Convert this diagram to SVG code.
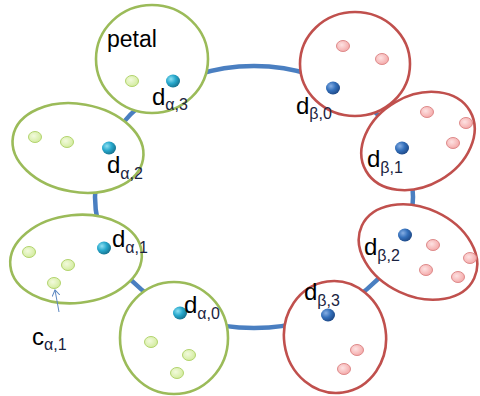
<svg xmlns="http://www.w3.org/2000/svg" width="480" height="396" viewBox="0 0 480 396">
<defs>
<radialGradient id="gTeal" cx="0.35" cy="0.35" r="0.7"><stop offset="0" stop-color="#8fe0f2"/><stop offset="0.5" stop-color="#27a8cc"/><stop offset="1" stop-color="#16708c"/></radialGradient>
<radialGradient id="gBlue" cx="0.35" cy="0.35" r="0.7"><stop offset="0" stop-color="#86aee3"/><stop offset="0.5" stop-color="#3470bb"/><stop offset="1" stop-color="#1d4785"/></radialGradient>
<radialGradient id="gGreen" cx="0.4" cy="0.4" r="0.7"><stop offset="0" stop-color="#f2fadd"/><stop offset="1" stop-color="#cfea96"/></radialGradient>
<radialGradient id="gPink" cx="0.4" cy="0.4" r="0.7"><stop offset="0" stop-color="#fde2e2"/><stop offset="1" stop-color="#f3a2a2"/></radialGradient>
<marker id="arr" markerWidth="8" markerHeight="8" refX="6" refY="4" orient="auto" markerUnits="userSpaceOnUse"><path d="M0,0 L6,4 L0,8" fill="none" stroke="#5b86c0" stroke-width="1"/></marker>
</defs>
<style>
.ring{fill:none;stroke:#4a7fc1;stroke-width:4.5}
.pg{fill:#fff;stroke:#9bbb59;stroke-width:2.6}
.pr{fill:#fff;stroke:#c0504d;stroke-width:2.6}
.lg{fill:url(#gGreen);stroke:#b3d46f;stroke-width:1}
.pk{fill:url(#gPink);stroke:#de8a8a;stroke-width:1}
.tl{fill:url(#gTeal)}
.bl{fill:url(#gBlue)}
text{font-family:"Liberation Sans",Arial,sans-serif;fill:#000}
.d{font-size:24px}
.s{font-size:16px;fill:#1a2340}
</style>
<g id="connectors">
<ellipse class="ring" cx="254" cy="197" rx="159" ry="131"/>
</g>
<g id="petal-a3">
<ellipse class="pg" cx="152" cy="59" rx="56" ry="54"/>
<text x="107" y="47" style="font-size:23px">petal</text>
<ellipse class="lg" cx="132" cy="81" rx="6.5" ry="5.5"/>
<ellipse class="tl" cx="173" cy="81" rx="7" ry="6.5"/>
<text x="152" y="105"><tspan class="d">d</tspan><tspan class="s" dy="5">α,3</tspan></text>
</g>
<g id="petal-b0">
<ellipse class="pr" cx="355" cy="64" rx="55" ry="52"/>
<ellipse class="pk" cx="343" cy="46" rx="6.5" ry="5.5"/>
<ellipse class="pk" cx="382" cy="59" rx="6.5" ry="5.5"/>
<ellipse class="bl" cx="333" cy="88" rx="7" ry="6.5"/>
<text x="296" y="114"><tspan class="d">d</tspan><tspan class="s" dy="5">β,0</tspan></text>
</g>
<g id="petal-a2">
<ellipse class="pg" cx="78" cy="148" rx="66" ry="44" transform="rotate(10 78 148)"/>
<ellipse class="lg" cx="35" cy="137" rx="6.5" ry="5.5"/>
<ellipse class="lg" cx="67" cy="142" rx="6.5" ry="5.5"/>
<ellipse class="tl" cx="109" cy="148" rx="7" ry="6.5"/>
<text x="107" y="173"><tspan class="d">d</tspan><tspan class="s" dy="6">α,2</tspan></text>
</g>
<g id="petal-b1">
<ellipse class="pr" cx="418" cy="141" rx="60" ry="45" transform="rotate(-30 418 141)"/>
<ellipse class="pk" cx="427" cy="112" rx="6.5" ry="5.5"/>
<ellipse class="pk" cx="466" cy="123" rx="6.5" ry="5.5"/>
<ellipse class="pk" cx="453" cy="143" rx="6.5" ry="5.5"/>
<ellipse class="bl" cx="402" cy="148" rx="7" ry="6.5"/>
<text x="367" y="167"><tspan class="d">d</tspan><tspan class="s" dy="6">β,1</tspan></text>
</g>
<g id="petal-a1">
<ellipse class="pg" cx="76" cy="259" rx="66" ry="44" transform="rotate(-6 76 259)"/>
<ellipse class="lg" cx="29" cy="252" rx="6.5" ry="5.5"/>
<ellipse class="lg" cx="68" cy="265" rx="6.5" ry="5.5"/>
<ellipse class="lg" cx="54" cy="283" rx="6.5" ry="5.5"/>
<ellipse class="tl" cx="104" cy="248" rx="7" ry="6.5"/>
<text x="112" y="247"><tspan class="d">d</tspan><tspan class="s" dy="6">α,1</tspan></text>
</g>
<g id="petal-b2">
<ellipse class="pr" cx="418" cy="252" rx="62" ry="44" transform="rotate(25 418 252)"/>
<ellipse class="bl" cx="405" cy="235" rx="7" ry="6.5"/>
<ellipse class="pk" cx="433" cy="245" rx="6.5" ry="5.5"/>
<ellipse class="pk" cx="470" cy="258" rx="6.5" ry="5.5"/>
<ellipse class="pk" cx="426" cy="270" rx="6.5" ry="5.5"/>
<ellipse class="pk" cx="458" cy="277" rx="6.5" ry="5.5"/>
<text x="364" y="255"><tspan class="d">d</tspan><tspan class="s" dy="6">β,2</tspan></text>
</g>
<g id="petal-a0">
<ellipse class="pg" cx="174" cy="338" rx="54" ry="56"/>
<ellipse class="tl" cx="180" cy="313" rx="7" ry="6.5"/>
<ellipse class="lg" cx="151" cy="342" rx="6.5" ry="5.5"/>
<ellipse class="lg" cx="189" cy="355" rx="6.5" ry="5.5"/>
<ellipse class="lg" cx="177" cy="373" rx="6.5" ry="5.5"/>
<text x="184" y="313"><tspan class="d">d</tspan><tspan class="s" dy="6">α,0</tspan></text>
</g>
<g id="petal-b3">
<ellipse class="pr" cx="335" cy="337" rx="51" ry="56" transform="rotate(-8 335 337)"/>
<ellipse class="bl" cx="328" cy="315" rx="7" ry="6.5"/>
<ellipse class="pk" cx="357" cy="350" rx="6.5" ry="5.5"/>
<ellipse class="pk" cx="344" cy="369" rx="6.5" ry="5.5"/>
<text x="304" y="300"><tspan class="d">d</tspan><tspan class="s" dy="6">β,3</tspan></text>
</g>
<g id="label-c">
<line x1="59" y1="312" x2="55" y2="290" stroke="#5b86c0" stroke-width="1" marker-end="url(#arr)"/>
<text x="32" y="345"><tspan class="d">c</tspan><tspan class="s" dy="5">α,1</tspan></text>
</g>
</svg>
